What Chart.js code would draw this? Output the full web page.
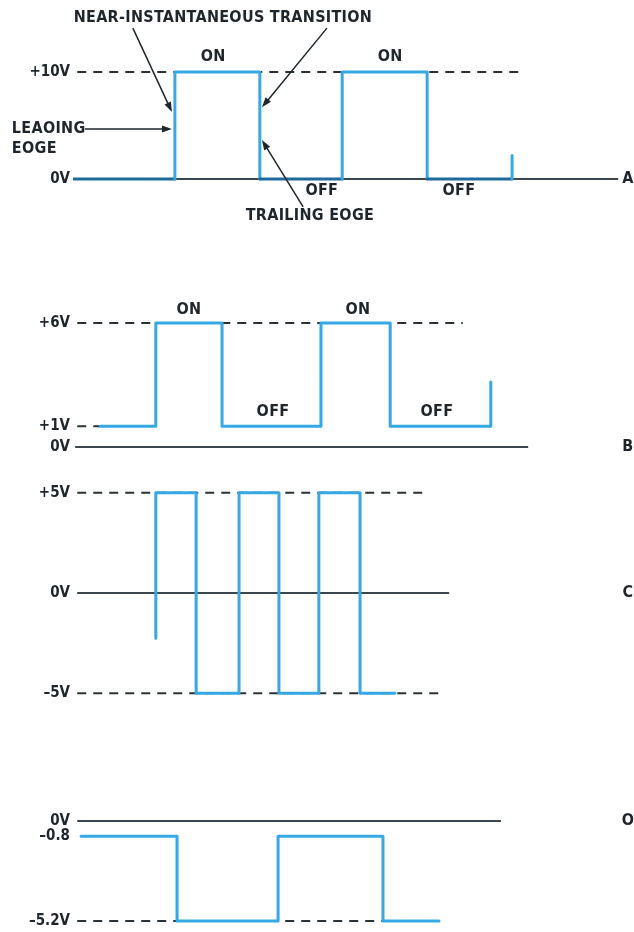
<!DOCTYPE html>
<html>
<head>
<meta charset="utf-8">
<title>Digital waveforms</title>
<script src="https://cdn.jsdelivr.net/npm/chart.js@4.4.0/dist/chart.umd.min.js"></script>
<style>
  body { margin: 0; background: #fff; width: 634px; height: 932px; position: relative; overflow: hidden; }
  canvas { position: absolute; left: 0; }
</style>
</head>
<body>
<canvas id="wave-a" width="634" height="230" style="top:0px"></canvas>
<canvas id="wave-b" width="634" height="170" style="top:290px"></canvas>
<canvas id="wave-c" width="634" height="240" style="top:470px"></canvas>
<canvas id="wave-d" width="634" height="132" style="top:800px"></canvas>
<script>
// shared time axis (arbitrary units)
var timeMax = 130;

// trace A: 0V / +10V pulses, level i holds from time i to time i+1
var aTimes = [0, 24, 44, 63.4, 83.4, 103.4];
var aLevels = [0, 10, 0, 10, 0, 2.2];
var aTicks = [0, 10];
var aTickLabels = ['0V', '+10V'];
var aZeroLine = [0, 128.4];
var aHighDash = [1, 105.5];

// trace B: +1V / +6V pulses
var bTimes = [6.4, 19.5, 35.1, 58.4, 74.7, 98.4];
var bLevels = [1, 6, 1, 6, 1, 3.15];
var bTicks = [0, 1, 6];
var bTickLabels = ['0V', '+1V', '+6V'];
var bZeroLine = [0.5, 107.2];
var bHighDash = [1, 91.8];
var bLowDash = [1, 6.4];

// trace C: -5V / +5V
var cTimes = [19.5, 19.5, 29, 39.1, 48.5, 57.9, 67.6, 75.8];
var cLevels = [-2.25, 5, -5, 5, -5, 5, -5, -5];
var cTicks = [-5, 0, 5];
var cTickLabels = ['\u20135V', '0V', '+5V'];
var cZeroLine = [1, 88.6];
var cHighDash = [1, 82.9];
var cLowDash = [1, 86.4];

// trace D: -0.8V / -5.2V
var dTimes = [1.9, 24.5, 48.3, 73, 86.2];
var dLevels = [-0.8, -5.2, -0.8, -5.2, -5.2];
var dTicks = [-5.2, -0.8, 0];
var dTickLabels = ['\u20135.2V', '\u20130.8', '0V'];
var dZeroLine = [1, 100.8];
var dLowDash = [1, 86.4];

var FONT = '"Liberation Sans Narrow", "DejaVu Sans Condensed", sans-serif';
var INK = '#1f262b';
var BLUE = '#36a9e4';
var DARK_BLUE = '#1f6a9c';

function stepPoints(times, levels) {
  var pts = [];
  for (var i = 0; i < times.length; i++) {
    if (i > 0) pts.push({x: times[i], y: levels[i - 1]});
    pts.push({x: times[i], y: levels[i]});
  }
  return pts;
}

function flatLine(span, v, dashed) {
  return {
    data: [{x: span[0], y: v}, {x: span[1], y: v}],
    borderColor: dashed ? '#2b3236' : '#3c474d',
    borderWidth: 2,
    borderDash: dashed ? [9, 7] : [],
    pointRadius: 0,
    order: 2
  };
}

function signal(times, levels, lowLevel) {
  return {
    data: stepPoints(times, levels),
    borderColor: BLUE,
    borderWidth: 3,
    borderJoinStyle: 'round',
    borderCapStyle: 'round',
    pointRadius: 0,
    order: 1,
    segment: {
      borderColor: function (ctx) {
        if (lowLevel !== undefined && ctx.p0.parsed.y === lowLevel && ctx.p1.parsed.y === lowLevel) {
          return DARK_BLUE;
        }
        return BLUE;
      }
    }
  };
}

// text + arrows, placed in data units
var notesPlugin = {
  id: 'notes',
  afterDatasetsDraw: function (chart, args, opts) {
    var ctx = chart.ctx;
    var xs = chart.scales.x, ys = chart.scales.y;
    ctx.save();
    ctx.fillStyle = INK;
    ctx.strokeStyle = INK;
    ctx.font = 'bold 16px ' + FONT;
    ctx.letterSpacing = '0.3px';
    ctx.textBaseline = 'middle';
    (opts.items || []).forEach(function (n) {
      ctx.textAlign = n.align || 'center';
      ctx.fillText(n.text, xs.getPixelForValue(n.t), ys.getPixelForValue(n.v));
    });
    ctx.lineWidth = 1.5;
    (opts.arrows || []).forEach(function (a) {
      var x0 = xs.getPixelForValue(a[0]), y0 = ys.getPixelForValue(a[1]);
      var x1 = xs.getPixelForValue(a[2]), y1 = ys.getPixelForValue(a[3]);
      var ang = Math.atan2(y1 - y0, x1 - x0);
      ctx.beginPath();
      ctx.moveTo(x0, y0);
      ctx.lineTo(x1 - 6 * Math.cos(ang), y1 - 6 * Math.sin(ang));
      ctx.stroke();
      ctx.beginPath();
      ctx.moveTo(x1, y1);
      ctx.lineTo(x1 - 10 * Math.cos(ang) + 3.5 * Math.sin(ang), y1 - 10 * Math.sin(ang) - 3.5 * Math.cos(ang));
      ctx.lineTo(x1 - 10 * Math.cos(ang) - 3.5 * Math.sin(ang), y1 - 10 * Math.sin(ang) + 3.5 * Math.cos(ang));
      ctx.closePath();
      ctx.fill();
    });
    ctx.restore();
  }
};

function makeChart(id, yMin, yMax, ticks, tickLabels, datasets, notes) {
  return new Chart(document.getElementById(id), {
    type: 'line',
    data: {datasets: datasets},
    plugins: [notesPlugin],
    options: {
      responsive: false,
      animation: false,
      layout: {padding: {left: 0, right: 9, top: 0, bottom: 0}},
      plugins: {legend: {display: false}, tooltip: {enabled: false}, notes: notes},
      scales: {
        x: {type: 'linear', min: 0, max: timeMax, display: false},
        y: {
          min: yMin, max: yMax,
          grid: {display: false, drawTicks: false},
          border: {display: false},
          afterBuildTicks: function (scale) {
            scale.ticks = ticks.map(function (v) { return {value: v}; });
          },
          afterFit: function (scale) {
            scale.width = 73;
            scale.paddingTop = 0;
            scale.paddingBottom = 0;
          },
          ticks: {
            padding: 3,
            color: INK,
            font: {family: FONT, size: 15, weight: 'bold'},
            callback: function (v) { return tickLabels[ticks.indexOf(v)]; }
          }
        }
      }
    }
  });
}

makeChart('wave-a', -4.77, 16.73, aTicks, aTickLabels, [
  flatLine(aZeroLine, 0, false),
  flatLine(aHighDash, 10, true),
  signal(aTimes, aLevels, 0)
], {
  items: [
    {text: 'NEAR-INSTANTANEOUS TRANSITION', t: 35.3, v: 15.1},
    {text: 'ON', t: 33, v: 11.4},
    {text: 'ON', t: 74.7, v: 11.4},
    {text: 'OFF', t: 58.6, v: -1.12},
    {text: 'OFF', t: 90.9, v: -1.12},
    {text: 'TRAILING EOGE', t: 55.8, v: -3.46},
    {text: 'LEAOING', t: -14.4, v: 4.67, align: 'left'},
    {text: 'EOGE', t: -14.4, v: 2.8, align: 'left'},
    {text: 'A', t: 130.7, v: 0}
  ],
  arrows: [
    [14.1, 14.1, 23.3, 6.26],
    [59.8, 14.1, 44.5, 6.7],
    [2.8, 4.67, 23.3, 4.67],
    [54.2, -2.6, 44.5, 3.64]
  ]
});

makeChart('wave-b', -0.63, 7.6, bTicks, bTickLabels, [
  flatLine(bZeroLine, 0, false),
  flatLine(bHighDash, 6, true),
  flatLine(bLowDash, 1, true),
  signal(bTimes, bLevels)
], {
  items: [
    {text: 'ON', t: 27.3, v: 6.63},
    {text: 'ON', t: 67.1, v: 6.63},
    {text: 'OFF', t: 47.1, v: 1.69},
    {text: 'OFF', t: 85.7, v: 1.69},
    {text: 'B', t: 130.7, v: 0}
  ]
});

makeChart('wave-c', -5.83, 6.13, cTicks, cTickLabels, [
  flatLine(cZeroLine, 0, false),
  flatLine(cHighDash, 5, true),
  flatLine(cLowDash, -5, true),
  signal(cTimes, cLevels)
], {
  items: [{text: 'C', t: 130.7, v: 0}]
});

makeChart('wave-d', -5.77, 1.09, dTicks, dTickLabels, [
  flatLine(dZeroLine, 0, false),
  flatLine(dLowDash, -5.2, true),
  signal(dTimes, dLevels)
], {
  items: [{text: 'O', t: 130.7, v: 0}]
});
</script>
</body>
</html>
